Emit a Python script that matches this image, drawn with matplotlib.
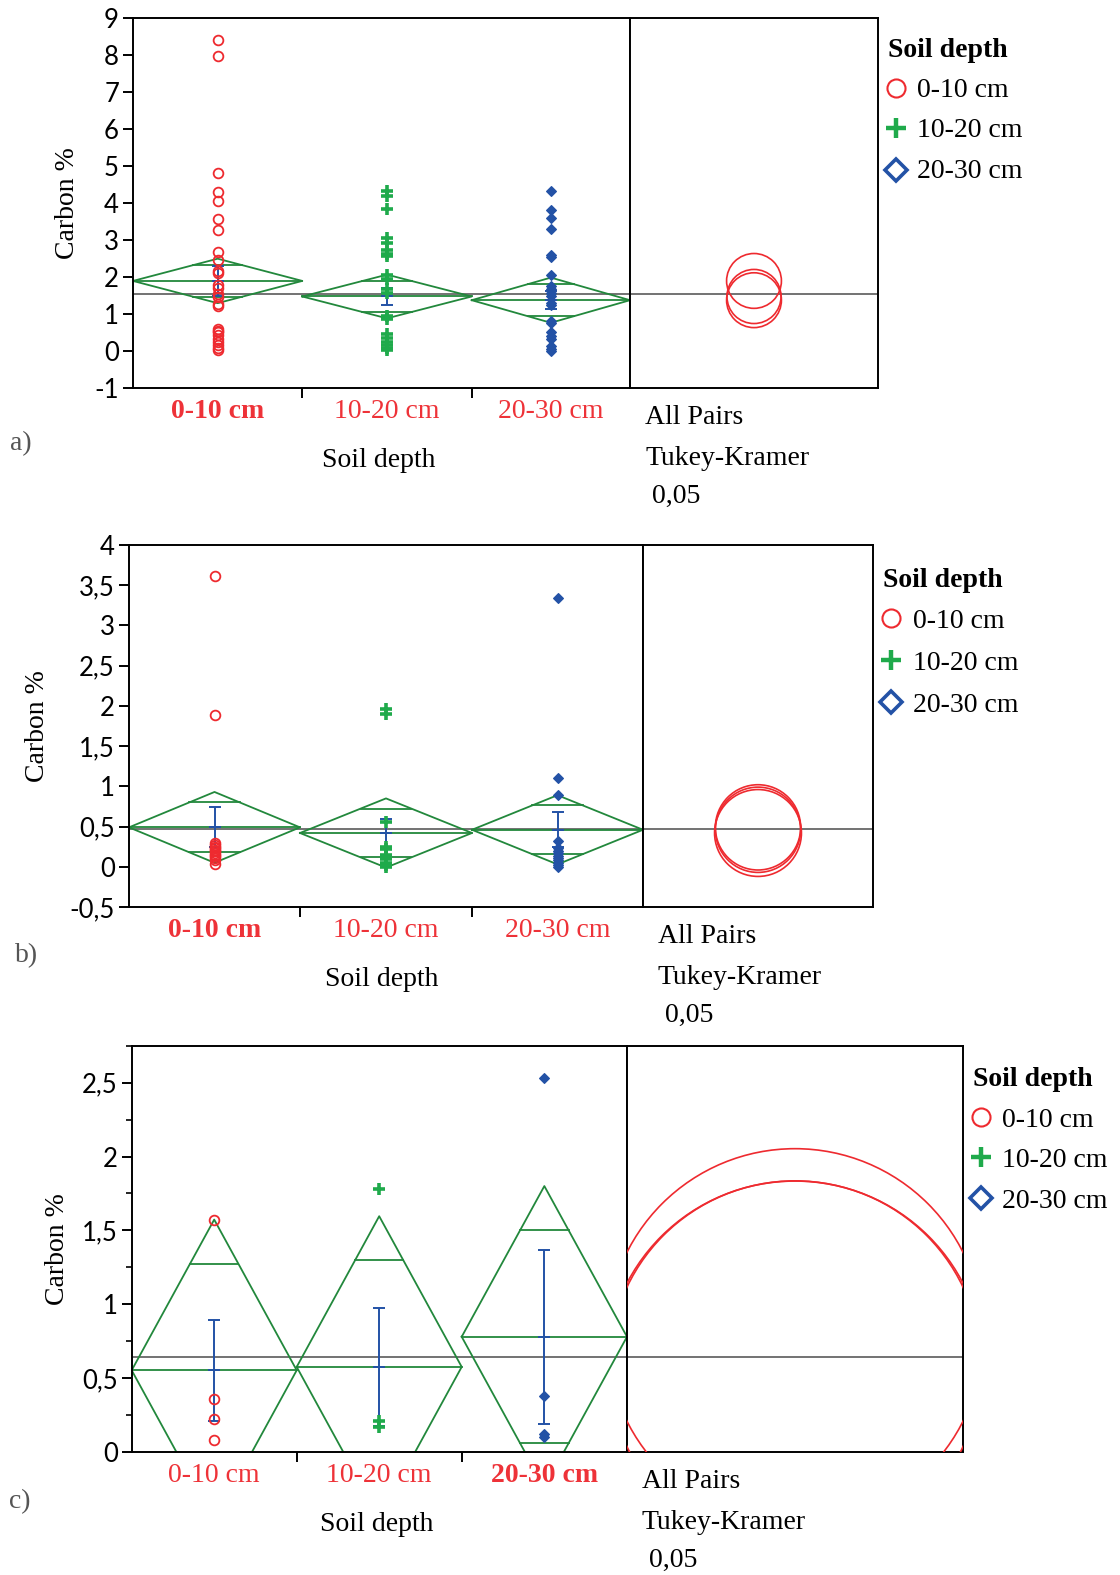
import matplotlib
matplotlib.use('Agg')
import matplotlib.pyplot as plt
from matplotlib.patches import Ellipse
from matplotlib.ticker import FuncFormatter, MultipleLocator
import numpy as np

W, H, DPI = 1120, 1575, 100
PT = 72.0 / DPI  # points per pixel

plt.rcParams['font.family'] = ['Liberation Serif', 'DejaVu Serif']

# ---------------- data ----------------
categories = ['0-10 cm', '10-20 cm', '20-30 cm']
legend_title = 'Soil depth'
x_title = 'Soil depth'
y_title = 'Carbon %'
test_lines = ['All Pairs', 'Tukey-Kramer', ' 0,05']
panel_tags = ['a)', 'b)', 'c)']

# panel a
a_pts_0_10 = [8.40, 7.95, 4.80, 4.30, 4.05, 3.56, 3.26, 2.68, 2.45, 2.17, 2.11, 1.78,
              1.70, 1.54, 1.46, 1.26, 1.21, 0.60, 0.55, 0.50, 0.42, 0.33, 0.25, 0.15,
              0.08, 0.03]
a_pts_10_20 = [4.33, 4.18, 3.82, 3.05, 2.92, 2.72, 2.62, 2.56, 2.05, 1.93, 1.66, 1.57,
               0.94, 0.85, 0.45, 0.35, 0.25, 0.15, 0.08, 0.02]
a_pts_20_30 = [4.33, 3.80, 3.60, 3.30, 2.59, 2.54, 2.06, 1.75, 1.68, 1.57, 1.48, 1.30,
               1.23, 0.81, 0.75, 0.52, 0.40, 0.31, 0.13, 0.05, 0.00]
a_means = [1.89, 1.47, 1.37]
a_ci = [0.60, 0.59, 0.61]
a_err = [0.40, 0.24, 0.24]
a_grand = 1.55
a_circle_r = [0.74, 0.73, 0.74]

# panel b
b_pts_0_10 = [3.62, 1.89, 0.29, 0.27, 0.25, 0.23, 0.21, 0.19, 0.17, 0.15, 0.13, 0.11,
              0.09, 0.03]
b_pts_10_20 = [1.96, 1.90, 0.56, 0.25, 0.22, 0.15, 0.12, 0.10, 0.05, 0.02, 0.00]
b_pts_20_30 = [3.34, 1.10, 0.89, 0.32, 0.23, 0.20, 0.17, 0.14, 0.11, 0.08, 0.05, 0.02,
               0.00]
b_means = [0.49, 0.42, 0.46]
b_ci = [0.44, 0.43, 0.43]
b_err = [0.25, 0.17, 0.22]
b_grand = 0.47
b_circle_r = [0.53, 0.54, 0.53]

# panel c
c_pts_0_10 = [1.57, 0.36, 0.22, 0.08]
c_pts_10_20 = [1.78, 0.21, 0.17]
c_pts_20_30 = [2.53, 0.38, 0.12, 0.10]
c_means = [0.553, 0.576, 0.78]
c_ci = [1.02, 1.02, 1.02]
c_err = [0.34, 0.40, 0.59]
c_grand = 0.64
c_circle_r = [1.281, 1.259, 1.273]

# ---------------- styles / layout ----------------
RED = '#ee2a2f'
GREEN_PT = '#1faa4b'
BLUE = '#2352a6'
GREEN_LN = '#22883c'
GRAY = '#5a5a5a'
LABEL_RED = '#ee3238'

marker_styles = [
    dict(marker='o', ms=7, mfc='none', mec=RED, mew=1.3, ls='none'),
    dict(marker='+', ms=9, mec=GREEN_PT, mew=2.6, ls='none'),
    dict(marker='D', ms=5, mfc=BLUE, mec=BLUE, mew=0.8, ls='none'),
]

panels = [
    dict(data=[a_pts_0_10, a_pts_10_20, a_pts_20_30], means=a_means, ci=a_ci, err=a_err,
         grand=a_grand, circ=a_circle_r, ylim=(-1, 9), major=1, minor=None,
         box=(133, 17.5, 630, 388), right=878, widths=[169.3, 169.4, 158.3], bold=0,
         ylab_x=67, xlab_x=379, tag_x=10, tag_dy=62, test_x=645,
         leg=(888, 57.3, 896, 917, [97.3, 137.3, 178.3], [88.3, 128.3, 170])),
    dict(data=[b_pts_0_10, b_pts_10_20, b_pts_20_30], means=b_means, ci=b_ci, err=b_err,
         grand=b_grand, circ=b_circle_r, ylim=(-0.5, 4), major=0.5, minor=None,
         box=(129, 545, 643, 907), right=873, widths=[171, 172, 171], bold=0,
         ylab_x=37, xlab_x=382, tag_x=15, tag_dy=55, test_x=658,
         leg=(883, 586.7, 891, 913, [628.3, 670, 711.7], [618.3, 660, 702.3])),
    dict(data=[c_pts_0_10, c_pts_10_20, c_pts_20_30], means=c_means, ci=c_ci, err=c_err,
         grand=c_grand, circ=c_circle_r, ylim=(0, 2.75), major=0.5, minor=0.25,
         box=(131.7, 1045.7, 627, 1452), right=963, widths=[165, 165, 165.3], bold=2,
         ylab_x=57, xlab_x=377, tag_x=9, tag_dy=56, test_x=642,
         leg=(973, 1086, 981, 1002, [1126.7, 1166.7, 1208.3], [1117.3, 1157.3, 1198.3])),
]

fig = plt.figure(figsize=(W / DPI, H / DPI), dpi=DPI)
fig.patch.set_facecolor('white')


def add_axes_px(x0, y0, x1, y1, **kw):
    return fig.add_axes([x0 / W, 1 - y1 / H, (x1 - x0) / W, (y1 - y0) / H], **kw)


def ftext(x, y, s, **kw):
    fig.text(x / W, 1 - y / H, s, **kw)


def comma_fmt(v, pos):
    s = ('%g' % round(v, 3))
    return s.replace('.', ',')


overlay = add_axes_px(0, 0, W, H)
overlay.set_xlim(0, W)
overlay.set_ylim(H, 0)
overlay.axis('off')
overlay.set_zorder(-5)

SPINE_LW = 1.4
for P, tag in zip(panels, panel_tags):
    x0, y0, xs, y1 = P['box']
    ax = add_axes_px(x0, y0, xs, y1)
    ax2 = add_axes_px(xs, y0, P['right'], y1)
    edges = np.concatenate([[0], np.cumsum(P['widths'])])
    centers = (edges[:-1] + edges[1:]) / 2
    ax.set_xlim(edges[0], edges[-1])
    ax.set_ylim(*P['ylim'])
    ax2.set_xlim(0, 1)
    ax2.set_ylim(*P['ylim'])

    for sp in list(ax.spines.values()) + list(ax2.spines.values()):
        sp.set_linewidth(SPINE_LW)
        sp.set_color('black')

    # grand mean
    ax.axhline(P['grand'], color=GRAY, lw=1.2, zorder=1)
    ax2.axhline(P['grand'], color=GRAY, lw=1.2, zorder=1)

    for i, (pts, m, ci, eb) in enumerate(zip(P['data'], P['means'], P['ci'], P['err'])):
        a0, a1, xc = edges[i], edges[i + 1], centers[i]
        hw = (a1 - a0) / 2
        ax.plot([a0, xc, a1, xc, a0], [m, m + ci, m, m - ci, m], color=GREEN_LN, lw=1.3, zorder=2)
        ax.plot([a0, a1], [m, m], color=GREEN_LN, lw=1.3, zorder=2)
        d = ci / np.sqrt(2)
        s = hw * (1 - 1 / np.sqrt(2))
        for yy in (m + d, m - d):
            ax.plot([xc - s, xc + s], [yy, yy], color=GREEN_LN, lw=1.3, zorder=2)
        ax.errorbar([xc], [m], yerr=[eb], color=BLUE, lw=1.4, capsize=4.5, capthick=1.4, zorder=3)
        ax.plot([xc], [m], marker='_', ms=9, mew=1.4, color=BLUE, zorder=3)
        ax.plot([xc] * len(pts), pts, zorder=4, **marker_styles[i])

        # category label
        ax.annotate(categories[i], xy=(xc, 0), xycoords=('data', 'axes fraction'),
                    xytext=(0, -30 * PT), textcoords='offset points', ha='center',
                    va='baseline', fontsize=20, color=LABEL_RED,
                    fontweight='bold' if i == P['bold'] else 'normal', annotation_clip=False)

    # comparison circles
    ppu_y = (y1 - y0) / (P['ylim'][1] - P['ylim'][0])
    comp_w = P['right'] - xs
    for m, r in zip(P['means'], P['circ']):
        rx = r * ppu_y / comp_w
        ax2.add_patch(Ellipse((0.5, m), 2 * rx, 2 * r, fill=False, ec=RED, lw=1.2, zorder=3))

    # ticks
    ax.yaxis.set_major_locator(MultipleLocator(P['major']))
    if P['minor']:
        ax.yaxis.set_minor_locator(MultipleLocator(P['minor']))
        ax.tick_params(axis='y', which='minor', length=6 * PT, width=1.2)
    ax.yaxis.set_major_formatter(FuncFormatter(comma_fmt))
    ax.tick_params(axis='y', which='major', direction='out', length=10 * PT, width=1.4,
                   labelsize=18.5, pad=4 * PT, labelfontfamily='Lato')
    ax.set_xticks(edges[1:-1])
    ax.set_xticklabels([])
    ax.tick_params(axis='x', direction='out', length=10 * PT, width=1.4)
    ax2.set_xticks([])
    ax2.set_yticks([])

    # texts
    ftext(P['ylab_x'], (y0 + y1) / 2, y_title, rotation=90, ha='center', va='center', fontsize=20)
    ftext(P['xlab_x'], y1 + 78.7, x_title, ha='center', va='baseline', fontsize=20)
    for k, (line, dy) in enumerate(zip(test_lines, [36.3, 77, 115])):
        ftext(P['test_x'], y1 + dy, line, ha='left', va='baseline', fontsize=20)
    ftext(P['tag_x'], y1 + P['tag_dy'], tag, ha='left', va='baseline', fontsize=20, color='#555555')

    # legend
    tx, tby, mx, lx, lbys, mys = P['leg']
    ftext(tx, tby, legend_title, ha='left', va='baseline', fontsize=20, fontweight='bold')
    leg_styles = [
        dict(marker='o', ms=13, mfc='none', mec=RED, mew=1.5),
        dict(marker='+', ms=14, mec=GREEN_PT, mew=3.2),
        dict(marker='D', ms=11, mfc='none', mec=BLUE, mew=2.6),
    ]
    for cat, by, my, st in zip(categories, lbys, mys, leg_styles):
        overlay.plot([mx], [my], ls='none', clip_on=False, **st)
        ftext(lx, by, cat, ha='left', va='baseline', fontsize=20)

fig.savefig('out.png', dpi=DPI, facecolor='white')
